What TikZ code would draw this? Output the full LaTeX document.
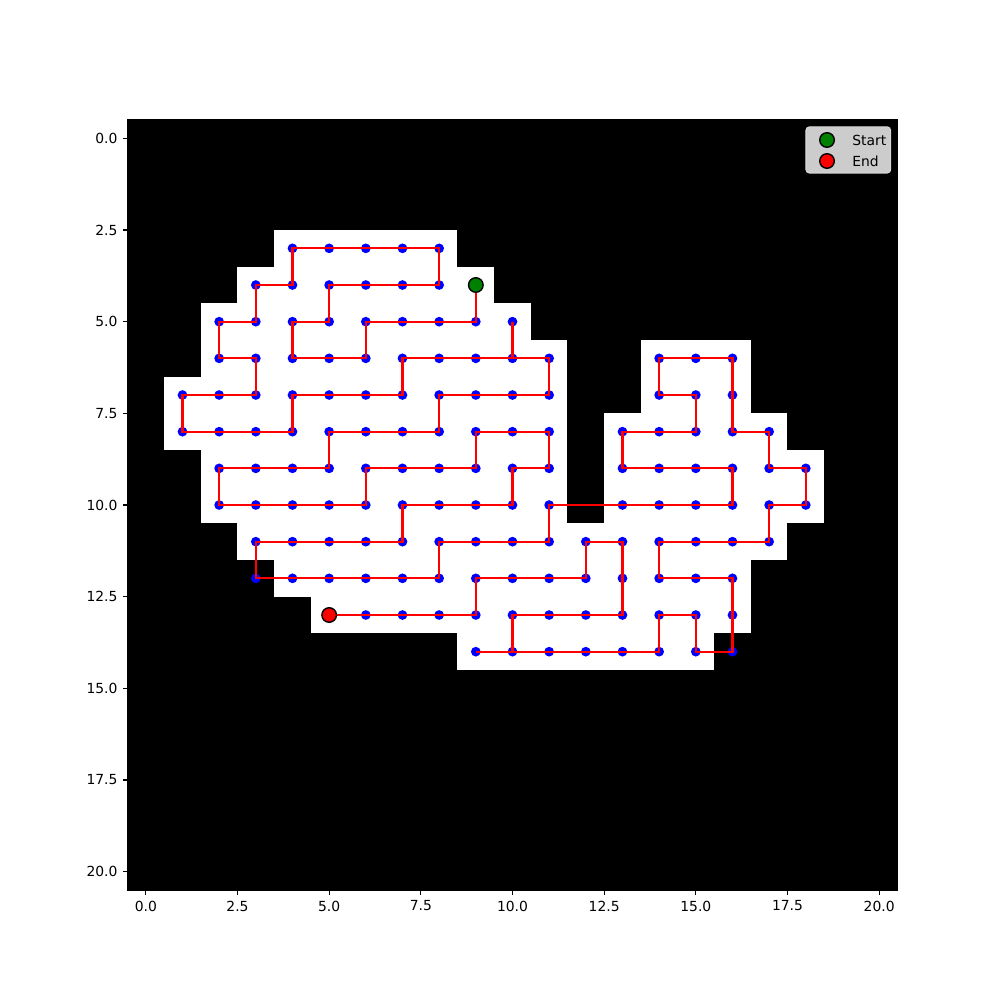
\documentclass[tikz,border=0pt]{standalone}
\usepackage{fontspec}
\setmainfont{DejaVu Sans}
\definecolor{mblue}{RGB}{0,0,255}
\definecolor{mgreen}{RGB}{0,128,0}
\definecolor{mred}{RGB}{255,0,0}
\definecolor{legfill}{RGB}{204,204,204}
\definecolor{legedge}{RGB}{214,214,214}
\begin{document}
\begin{tikzpicture}[x=26.4pt,y=-26.4pt,
  every node/.style={font=\fontsize{10}{12}\selectfont, inner sep=0pt},
  dotfill/.style={fill=mblue},
  redpath/.style={draw=mred, line width=1.5pt},
  marker/.style={circle, draw=black, line width=1pt, minimum size=10.5pt},
  tickline/.style={line width=0.8pt, black}]
\useasboundingbox (-3.977,-3.773) rectangle (23.295,23.5);
\fill[white] (-3.977,-3.773) rectangle (23.295,23.5);
% image
\fill[black] (-0.5,-0.5) rectangle (20.5,20.5);
\foreach \r/\a/\b in {3/4/8, 4/3/9, 5/2/10, 6/2/11, 6/14/16, 7/1/11, 7/14/16,
  8/1/11, 8/13/17, 9/2/11, 9/13/18, 10/2/11, 10/13/18, 11/3/17, 12/4/16, 13/5/16, 14/9/15}
  \fill[white] (\a-0.5,\r-0.5) rectangle (\b+0.5,\r+0.5);
% coordinates
\foreach \x in {1,...,18}
  \foreach \y in {3,...,14}
    \coordinate (p\x-\y) at (\x,\y);
% blue dots
\foreach \y/\xs in {3/{4,...,8}, 4/{3,...,9}, 5/{2,...,10},
  6/{2,...,11,14,15,16}, 7/{1,...,11,14,15,16}, 8/{1,...,11,13,14,15,16,17},
  9/{2,...,11,13,14,15,16,17,18}, 10/{2,...,11,13,14,15,16,17,18},
  11/{3,...,17}, 12/{3,...,16}, 13/{5,...,16}, 14/{9,...,16}}
  \foreach \x in \xs
    \fill[dotfill] (p\x-\y) circle[radius=3.5pt];
% red path
\draw[redpath] (p9-4) -- (p9-5) -- (p6-5) -- (p6-6) -- (p4-6) -- (p4-5) -- (p5-5) -- (p5-4)
  -- (p8-4) -- (p8-3) -- (p4-3) -- (p4-4) -- (p3-4) -- (p3-5) -- (p2-5) -- (p2-6) -- (p3-6)
  -- (p3-7) -- (p1-7) -- (p1-8) -- (p4-8) -- (p4-7) -- (p7-7) -- (p7-6) -- (p11-6) -- (p11-7)
  -- (p8-7) -- (p8-8) -- (p5-8) -- (p5-9) -- (p2-9) -- (p2-10) -- (p6-10) -- (p6-9) -- (p9-9)
  -- (p9-8) -- (p11-8) -- (p11-9) -- (p10-9) -- (p10-10) -- (p7-10) -- (p7-11) -- (p3-11)
  -- (p3-12) -- (p8-12) -- (p8-11) -- (p11-11) -- (p11-10) -- (p16-10) -- (p16-9) -- (p13-9)
  -- (p13-8) -- (p15-8) -- (p15-7) -- (p14-7) -- (p14-6) -- (p16-6) -- (p16-8) -- (p17-8)
  -- (p17-9) -- (p18-9) -- (p18-10) -- (p17-10) -- (p17-11) -- (p14-11) -- (p14-12) -- (p16-12)
  -- (p16-14) -- (p15-14) -- (p15-13) -- (p14-13) -- (p14-14) -- (p10-14) -- (p10-13) -- (p13-13)
  -- (p13-11) -- (p12-11) -- (p12-12) -- (p9-12) -- (p9-13) -- (p5-13);
\draw[redpath] (p10-5) -- (p10-6);
\draw[redpath] (p9-14) -- (p10-14);
% start / end
\node[marker, fill=mgreen] (start) at (p9-4) {};
\node[marker, fill=mred] (end) at (p5-13) {};
% axes frame and ticks
\draw[tickline] (-0.5,-0.5) rectangle (20.5,20.5);
\foreach \t/\l in {0/0.0, 2.5/2.5, 5/5.0, 7.5/7.5, 10/10.0, 12.5/12.5, 15/15.0, 17.5/17.5, 20/20.0} {
  \draw[tickline] (\t,20.5) -- ++(0,-3.5pt);
  \node[anchor=north] (xt\t) at ([yshift=-7.6pt]\t,20.5) {\l};
  \draw[tickline] (-0.5,\t) -- ++(-3.5pt,0);
  \node[anchor=east] (yt\t) at ([xshift=-7pt]-0.5,\t) {\l};
}
% legend
\draw[legedge, fill=legfill, line width=0.8pt, rounded corners=2.5pt] (18.004,-0.312) rectangle (20.314,0.945);
\node[marker, fill=mgreen] (lgstart) at (18.578,0.045) {};
\node[marker, fill=mred] (lgend) at (18.578,0.618) {};
\node[anchor=west] (lgstarttext) at (19.26,0.045) {Start};
\node[anchor=west] (lgendtext) at (19.26,0.618) {End};
\end{tikzpicture}
\end{document}
